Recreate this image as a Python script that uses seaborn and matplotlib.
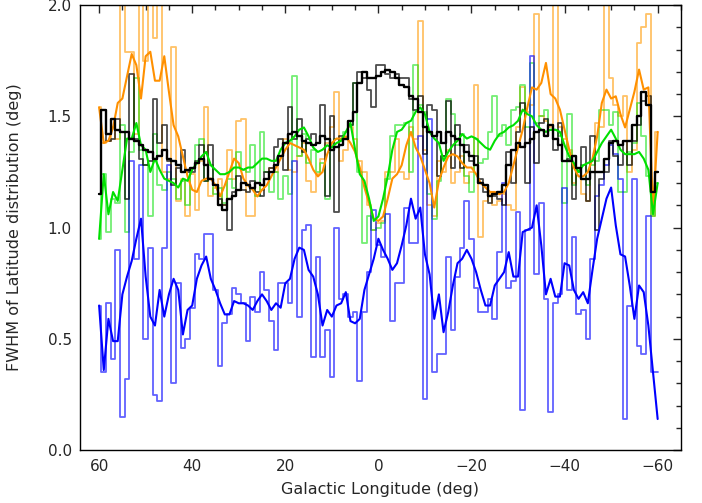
import numpy as np
import pandas as pd
import matplotlib
matplotlib.use("Agg")
import matplotlib.pyplot as plt
from matplotlib.ticker import MultipleLocator
import seaborn as sns

# galactic longitude, one bin per degree, 60 -> -60
lon = list(range(60, -61, -1))

blue_raw = [0.65, 0.35, 0.66, 0.41, 0.90, 0.15, 0.32, 1.30, 0.86, 1.28,
            0.50, 0.91, 0.25, 0.22, 0.91, 1.28, 0.30, 0.75, 0.46, 0.50,
            0.64, 0.88, 0.86, 0.97, 0.97, 0.72, 0.38, 0.57, 0.61, 0.73,
            0.70, 0.66, 0.49, 0.69, 0.62, 0.80, 0.72, 0.58, 0.45, 0.75,
            0.75, 0.66, 1.30, 0.60, 0.99, 1.01, 0.42, 0.87, 0.42, 0.54,
            0.33, 1.00, 0.68, 0.70, 0.60, 0.62, 0.31, 0.62, 0.80, 1.08,
            0.92, 0.87, 1.06, 0.58, 0.75, 0.75, 1.09, 0.93, 0.93, 1.41,
            0.23, 1.49, 0.35, 0.43, 0.43, 0.87, 0.54, 0.78, 0.91, 1.12,
            0.95, 0.73, 0.62, 0.62, 0.68, 0.59, 0.89, 1.20, 0.73, 0.76,
            1.07, 0.18, 0.99, 1.77, 0.79, 1.11, 0.68, 0.17, 0.66, 0.70,
            1.18, 0.72, 0.96, 0.61, 0.63, 0.50, 0.86, 1.14, 1.19, 1.28,
            1.37, 1.33, 1.22, 0.14, 0.65, 1.22, 0.47, 0.43, 1.05, 0.35,
            0.35]

blue_smooth = [0.65, 0.36, 0.59, 0.49, 0.49, 0.70, 0.78, 0.85, 0.95, 1.04,
               0.78, 0.60, 0.56, 0.72, 0.60, 0.70, 0.77, 0.72, 0.52, 0.63,
               0.65, 0.77, 0.83, 0.87, 0.77, 0.72, 0.66, 0.61, 0.61, 0.67,
               0.66, 0.66, 0.65, 0.63, 0.67, 0.70, 0.67, 0.63, 0.66, 0.64,
               0.75, 0.77, 0.86, 0.91, 0.90, 0.81, 0.78, 0.70, 0.56, 0.63,
               0.60, 0.65, 0.66, 0.71, 0.58, 0.57, 0.59, 0.72, 0.79, 0.86,
               0.95, 0.90, 0.86, 0.81, 0.84, 0.92, 1.01, 1.13, 1.04, 1.09,
               0.88, 0.79, 0.59, 0.70, 0.53, 0.62, 0.74, 0.84, 0.86, 0.90,
               0.86, 0.80, 0.72, 0.65, 0.65, 0.74, 0.77, 0.80, 0.89, 0.78,
               0.78, 0.98, 0.99, 1.00, 1.10, 0.92, 0.70, 0.77, 0.69, 0.69,
               0.84, 0.83, 0.72, 0.68, 0.71, 0.66, 0.81, 0.95, 1.04, 1.13,
               1.18, 1.01, 0.88, 0.87, 0.74, 0.59, 0.74, 0.71, 0.56, 0.35,
               0.14]

black_thick = [1.15, 1.53, 1.42, 1.49, 1.44, 1.43, 1.43, 1.40, 1.39, 1.37,
               1.35, 1.34, 1.31, 1.32, 1.35, 1.31, 1.30, 1.28, 1.25, 1.26,
               1.27, 1.29, 1.31, 1.28, 1.22, 1.19, 1.10, 1.08, 1.13, 1.14,
               1.17, 1.20, 1.19, 1.18, 1.20, 1.19, 1.22, 1.25, 1.28, 1.32,
               1.38, 1.42, 1.43, 1.41, 1.39, 1.38, 1.37, 1.38, 1.41, 1.40,
               1.35, 1.36, 1.37, 1.40, 1.48, 1.52, 1.65, 1.70, 1.67, 1.67,
               1.68, 1.70, 1.71, 1.70, 1.67, 1.64, 1.63, 1.59, 1.58, 1.52,
               1.45, 1.43, 1.41, 1.43, 1.38, 1.43, 1.41, 1.40, 1.37, 1.34,
               1.32, 1.28, 1.20, 1.19, 1.14, 1.15, 1.16, 1.19, 1.28, 1.35,
               1.38, 1.36, 1.38, 1.40, 1.43, 1.44, 1.41, 1.46, 1.40, 1.37,
               1.30, 1.30, 1.32, 1.27, 1.22, 1.22, 1.25, 1.25, 1.25, 1.31,
               1.38, 1.39, 1.37, 1.39, 1.39, 1.46, 1.50, 1.61, 1.55, 1.16,
               1.25]

black_thin = [1.15, 1.53, 1.39, 1.40, 1.49, 1.43, 1.13, 1.69, 1.40, 1.31,
              1.28, 1.30, 1.58, 1.38, 1.46, 1.30, 1.19, 1.27, 1.35, 1.25,
              1.25, 1.30, 1.37, 1.21, 1.37, 1.19, 1.13, 1.10, 0.99, 1.16,
              1.23, 1.17, 1.16, 1.21, 1.16, 1.14, 1.25, 1.27, 1.36, 1.40,
              1.26, 1.54, 1.40, 1.49, 1.34, 1.40, 1.42, 1.38, 1.55, 1.14,
              1.50, 1.07, 1.41, 1.40, 1.46, 1.65, 1.70, 1.67, 1.62, 1.54,
              1.73, 1.73, 1.69, 1.67, 1.69, 1.67, 1.67, 1.58, 1.53, 1.59,
              1.33, 1.55, 1.53, 1.23, 1.32, 1.57, 1.27, 1.46, 1.27, 1.37,
              1.30, 1.32, 1.22, 1.16, 1.11, 1.14, 1.13, 1.10, 1.34, 1.20,
              1.43, 1.56, 1.20, 1.45, 1.29, 1.47, 1.49, 1.44, 1.35, 1.47,
              1.30, 1.31, 1.13, 1.27, 1.36, 1.12, 1.41, 0.99, 1.22, 1.25,
              1.39, 1.32, 1.28, 1.39, 1.28, 1.39, 1.46, 1.57, 1.59, 1.16,
              1.25]

green_raw = [0.95, 1.24, 0.98, 1.13, 1.11, 1.46, 0.98, 1.34, 1.67, 1.35,
             1.28, 1.05, 1.42, 1.19, 1.17, 1.25, 1.22, 1.13, 1.21, 1.10,
             1.27, 1.37, 1.40, 1.21, 1.28, 1.15, 1.18, 1.11, 1.22, 1.18,
             1.34, 1.26, 1.25, 1.37, 1.14, 1.43, 1.25, 1.16, 1.25, 1.13,
             1.23, 1.15, 1.68, 1.32, 1.42, 1.29, 1.35, 1.25, 1.29, 1.13,
             1.37, 1.40, 1.40, 1.43, 1.46, 1.65, 1.25, 0.93, 1.05, 0.99,
             1.00, 1.02, 1.22, 1.41, 1.46, 1.46, 1.47, 1.25, 1.73, 1.55,
             1.52, 1.15, 1.04, 1.21, 1.32, 1.58, 1.51, 1.37, 1.42, 1.23,
             1.16, 1.40, 1.29, 1.31, 1.43, 1.59, 1.41, 1.46, 1.37, 1.53,
             1.54, 1.64, 1.45, 1.74, 1.47, 1.50, 1.53, 1.46, 1.44, 1.41,
             1.11, 1.51, 1.19, 1.25, 1.28, 1.19, 1.28, 1.30, 1.53, 1.53,
             1.46, 1.52, 1.16, 1.16, 1.34, 1.38, 1.56, 1.41, 1.23, 1.05,
             1.20]

green_smooth = [0.95, 1.24, 1.06, 1.16, 1.12, 1.26, 1.40, 1.40, 1.47, 1.37,
                1.35, 1.25, 1.31, 1.26, 1.22, 1.21, 1.20, 1.18, 1.22, 1.21,
                1.26, 1.29, 1.32, 1.34, 1.28, 1.26, 1.24, 1.24, 1.25, 1.27,
                1.27, 1.26, 1.27, 1.27, 1.29, 1.31, 1.31, 1.30, 1.30, 1.35,
                1.38, 1.39, 1.41, 1.44, 1.45, 1.41, 1.36, 1.34, 1.35, 1.37,
                1.36, 1.38, 1.39, 1.43, 1.47, 1.35, 1.24, 1.21, 1.13, 1.03,
                1.05, 1.13, 1.23, 1.35, 1.43, 1.44, 1.47, 1.48, 1.52, 1.54,
                1.51, 1.43, 1.40, 1.38, 1.30, 1.34, 1.37, 1.39, 1.42, 1.40,
                1.41, 1.40, 1.38, 1.36, 1.35, 1.39, 1.42, 1.43, 1.45, 1.46,
                1.48, 1.53, 1.51, 1.50, 1.46, 1.44, 1.43, 1.44, 1.44, 1.43,
                1.37, 1.32, 1.29, 1.25, 1.28, 1.29, 1.30, 1.34, 1.38, 1.41,
                1.44, 1.40, 1.35, 1.33, 1.33, 1.33, 1.34, 1.31, 1.26, 1.06,
                1.20]

orange_raw = [1.54, 1.38, 1.39, 1.45, 1.40, 2.30, 1.79, 1.79, 1.42, 2.30,
              1.75, 2.30, 1.85, 2.30, 1.25, 1.22, 1.81, 1.12, 1.22, 1.05,
              1.24, 1.08, 1.30, 1.54, 1.14, 1.18, 1.22, 1.10, 1.35, 1.22,
              1.48, 1.49, 1.05, 1.05, 1.20, 1.17, 1.22, 1.27, 1.25, 1.32,
              1.40, 1.26, 1.25, 1.32, 1.38, 1.21, 1.16, 1.24, 1.31, 1.38,
              1.45, 1.61, 1.30, 1.35, 1.45, 1.40, 1.30, 1.25, 1.10, 0.99,
              1.02, 1.03, 1.25, 1.25, 1.40, 1.25, 1.22, 1.45, 1.40, 1.93,
              1.35, 1.10, 1.05, 1.30, 1.25, 1.35, 1.20, 1.25, 1.32, 1.20,
              1.25, 1.64, 0.96, 1.12, 1.15, 1.10, 1.12, 1.15, 1.10, 1.08,
              1.45, 1.63, 1.52, 1.55, 1.96, 1.50, 1.48, 1.45, 2.30, 1.45,
              1.40, 1.35, 1.20, 1.25, 1.15, 1.12, 1.25, 1.47, 1.45, 2.30,
              1.67, 1.55, 1.50, 1.59, 1.25, 1.35, 1.83, 1.90, 1.96, 1.05,
              1.43]

orange_smooth = [1.54, 1.38, 1.39, 1.45, 1.56, 1.58, 1.68, 1.78, 1.73, 1.58,
                 1.77, 1.79, 1.66, 1.66, 1.77, 1.61, 1.46, 1.41, 1.32, 1.23,
                 1.17, 1.16, 1.21, 1.22, 1.22, 1.19, 1.14, 1.19, 1.25, 1.31,
                 1.29, 1.22, 1.19, 1.17, 1.14, 1.17, 1.19, 1.23, 1.27, 1.31,
                 1.35, 1.38, 1.37, 1.36, 1.35, 1.31, 1.26, 1.23, 1.25, 1.33,
                 1.38, 1.40, 1.40, 1.41, 1.38, 1.34, 1.27, 1.18, 1.11, 1.04,
                 1.03, 1.05, 1.13, 1.22, 1.24, 1.28, 1.37, 1.43, 1.36, 1.32,
                 1.26, 1.20, 1.09, 1.21, 1.27, 1.32, 1.33, 1.32, 1.29, 1.27,
                 1.27, 1.24, 1.20, 1.18, 1.16, 1.16, 1.15, 1.16, 1.20, 1.28,
                 1.36, 1.44, 1.54, 1.63, 1.62, 1.65, 1.74, 1.60, 1.58, 1.53,
                 1.44, 1.35, 1.27, 1.23, 1.23, 1.25, 1.31, 1.41, 1.56, 1.62,
                 1.58, 1.59, 1.51, 1.45, 1.53, 1.61, 1.71, 1.62, 1.63, 1.08,
                 1.43]

df = pd.DataFrame({'lon': lon,
                   'orange_raw': orange_raw, 'orange_smooth': orange_smooth,
                   'green_raw': green_raw, 'green_smooth': green_smooth,
                   'blue_raw': blue_raw, 'blue_smooth': blue_smooth,
                   'black_thin': black_thin, 'black_thick': black_thick})

sns.set_style("white")
plt.rcParams['font.family'] = ['DejaVu Sans']

fig = plt.figure(figsize=(7.02, 5.03), dpi=100)
ax = fig.add_axes([0.114, 0.105, 0.856, 0.885])

# thin histogram style curves first
steps = [('orange_raw', '#ff9900', 0.6),
         ('green_raw', '#00e000', 0.55),
         ('blue_raw', '#0000ff', 0.62),
         ('black_thin', '#000000', 0.7)]
for col, c, a in steps:
    sns.lineplot(data=df, x='lon', y=col, color=c, alpha=a, lw=1.3,
                 drawstyle='steps-mid', estimator=None, sort=False, ax=ax)

# smoothed curves on top
for col, c in [('orange_smooth', '#ff9000'), ('green_smooth', '#00e000'),
               ('blue_smooth', '#0000ff')]:
    sns.lineplot(data=df, x='lon', y=col, color=c, lw=1.5,
                 estimator=None, sort=False, ax=ax)

sns.lineplot(data=df, x='lon', y='black_thick', color='black', lw=1.7,
             drawstyle='steps-mid', estimator=None, sort=False, ax=ax)

ax.set_xlim(64.1, -65.0)
ax.set_ylim(0, 2)
ax.xaxis.set_major_locator(MultipleLocator(20))
ax.xaxis.set_minor_locator(MultipleLocator(5))
ax.yaxis.set_major_locator(MultipleLocator(0.5))
ax.yaxis.set_minor_locator(MultipleLocator(0.1))
ax.yaxis.set_major_formatter(matplotlib.ticker.FormatStrFormatter('%.1f'))
ax.tick_params(which='both', direction='in', top=True, right=True,
               width=1.0, labelsize=11, pad=6)
ax.tick_params(which='major', length=6)
ax.tick_params(which='minor', length=3.5)
for s in ax.spines.values():
    s.set_linewidth(1.0)
    s.set_color('black')

ax.set_xlabel('Galactic Longitude (deg)', fontsize=11.5)
ax.set_ylabel('FWHM of Latitude distribution (deg)', fontsize=11.5)
ax.xaxis.set_label_coords(0.5, -0.072)
ax.yaxis.set_label_coords(-0.096, 0.5)

fig.savefig('out.png', dpi=100)
